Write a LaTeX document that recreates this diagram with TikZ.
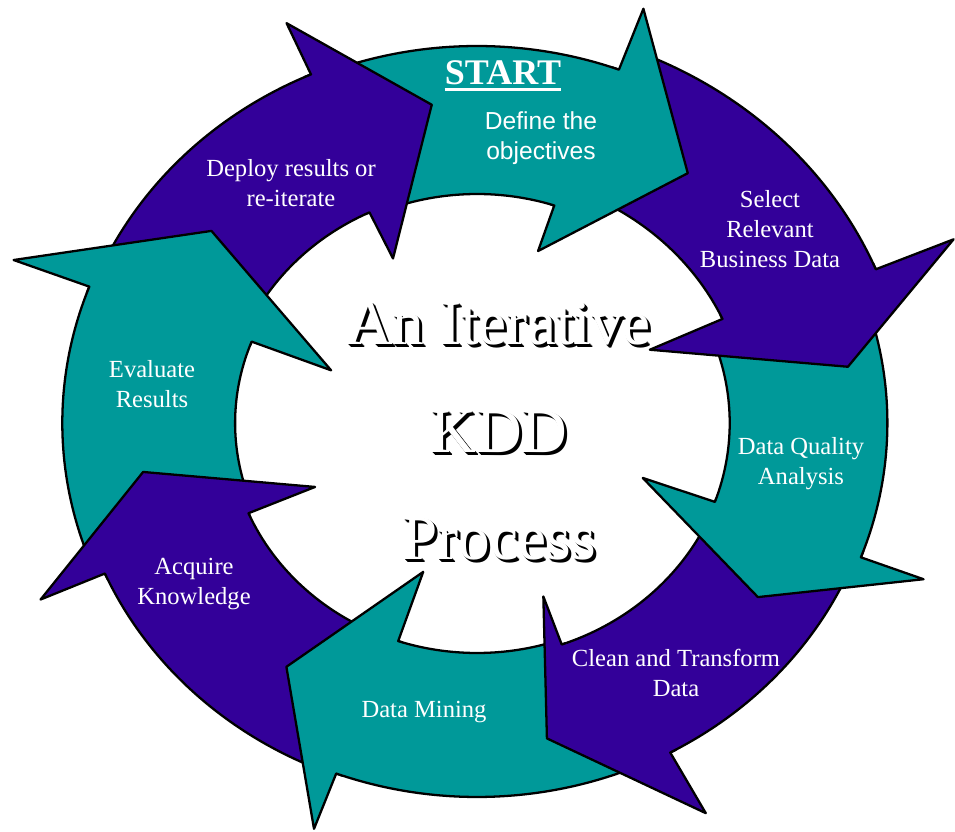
\documentclass[tikz,border=0pt]{standalone}
\usepackage{fontspec}
\setmainfont{Liberation Serif}
\newfontfamily\arialfont{Liberation Sans}
\usepackage{tikz}
\definecolor{kddteal}{RGB}{0,153,153}
\definecolor{kddpurple}{RGB}{51,0,153}

\begin{document}
\begin{tikzpicture}[x=0.02cm, y=0.02cm]
    \tikzstyle{rim} = [draw=black, line width=1.3pt, line join=round, line cap=round]
    \tikzstyle{lbl} = [text=white, align=center, font=\fontsize{14}{17}\selectfont]
    \tikzstyle{title} = [anchor=base, font=\fontsize{36}{42}\selectfont]
    \path[use as bounding box, fill=white] (0,0) rectangle (955,831);

    % colour / tail out / tail in / notch out / notch in / outer r / inner r / barb out / barb in / tip angle / tip r
    \def\kddarrows{kddpurple/156.2/156.2/113.8/115.3/381/233/437/182/97.5/321,
        kddteal/110.8/112.8/69.6/71.8/377/229/442/181/52/317,
        kddpurple/66.6/69.3/22.6/24.6/400/250/478/176/9.3/348,
        kddteal/19.6/22.1/-20.7/-19.7/380/234/442/163/-33.8/313,
        kddpurple/-23.7/-22.2/-61.5/-70.5/375/235/444/184/-78.4/322,
        kddteal/-64.5/-72.5/-110.4/-108.5/374/230/433/157/-125.9/301,
        kddpurple/-113.4/-111/-156.4/-156.9/376/230/441/163/-171/313,
        kddteal/200.6/200.6/159.2/158.7/384/224/459/145/142/312}

    \begin{scope}[shift={(477,408)}, xscale=1.08]
        % bodies first, then the heads, so each head hides the next tail
        \foreach \col/\tout/\tin/\nout/\nin/\rout/\rin/\bout/\bin/\tipa/\tipr in \kddarrows
            \path[rim, fill=\col] (\nout:\rout) arc[start angle=\nout, end angle=\tout, radius=\rout]
                -- (\tin:\rin) arc[start angle=\tin, end angle=\nin, radius=\rin];
        \foreach \col/\tout/\tin/\nout/\nin/\rout/\rin/\bout/\bin/\tipa/\tipr in \kddarrows
            \path[rim, fill=\col] ({\nin+1}:\rin) -- (\nin:\rin) -- (\nin:\bin) -- (\tipa:\tipr)
                -- (\nout:\bout) -- (\nout:\rout) -- ({\nout+1}:\rout);
    \end{scope}

    \node (start) [anchor=base, inner sep=0, text=white, font=\bfseries\fontsize{20.5}{24}\selectfont] at (503,746) {START};
    \draw[white, line width=1.7pt] ([yshift=-2.8pt]start.base west) -- ([yshift=-2.8pt]start.base east);
    \node (define) [lbl, font=\arialfont\fontsize{14}{17}\selectfont] at (541,693) {Define the\\objectives};
    \node (select) [lbl] at (770,602) {Select\\Relevant\\Business Data};
    \node (quality) [lbl] at (801,367) {Data Quality\\Analysis};
    \node (clean) [lbl] at (676,158) {Clean and Transform\\Data};
    \node (mining) [lbl] at (424,119) {Data Mining};
    \node (acquire) [lbl] at (194,247) {Acquire\\Knowledge};
    \node (evaluate) [lbl] at (152,447) {Evaluate\\Results};
    \node (deploy) [lbl] at (291,648) {Deploy results or\\re-iterate};

    % title with a dropped shadow
    \foreach \ln/\txt/\y in {an/An Iterative/486, kdd/KDD/378, proc/Process/271} {
        \foreach \d in {3,2,1}
            \node (\ln\d) [title, text=black] at (499+\d,\y-\d) {\txt};
        \node (\ln) [title, text=white] at (499,\y) {\txt};
    }
\end{tikzpicture}
\end{document}
